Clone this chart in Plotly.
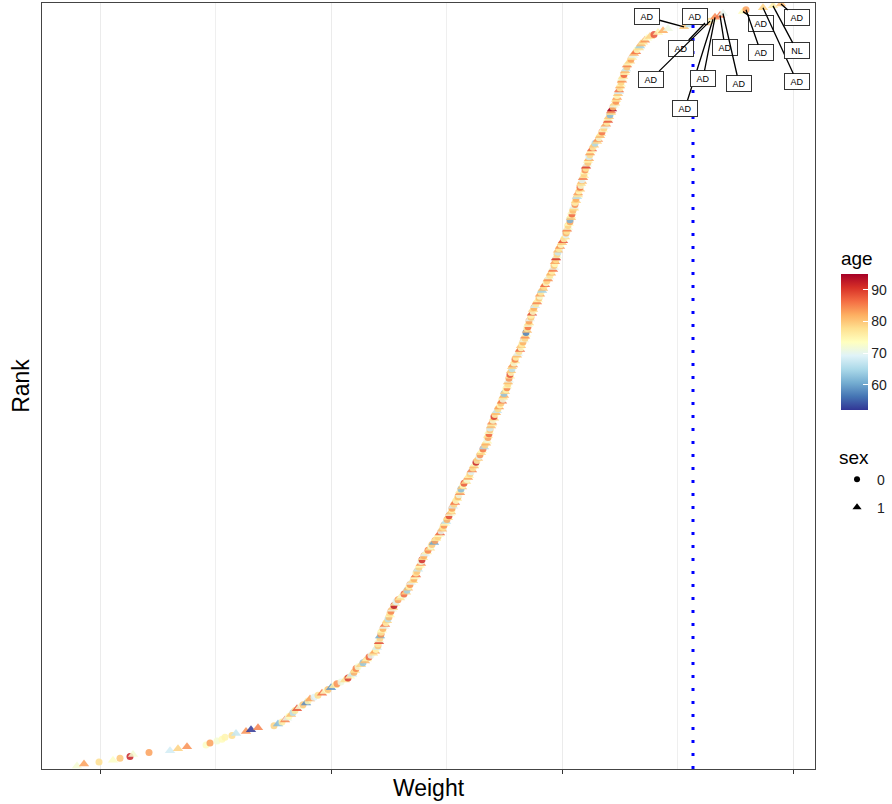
import plotly.graph_objects as go

# ---------------- data ----------------
weight = [
    -0.23, -0.16, -0.01, 0.13, 0.20, 0.30, 0.33, 0.49, 0.70, 0.78,
    0.87, 1.06, 1.10, 1.17, 1.22, 1.25, 1.32, 1.36, 1.46, 1.51,
    1.58, 1.74, 1.78, 1.82, 1.85, 1.87, 1.89, 1.91, 1.93, 1.95,
    1.97, 2.00, 2.03, 2.06, 2.08, 2.10, 2.14, 2.18, 2.22, 2.25,
    2.28, 2.31, 2.34, 2.37, 2.41, 2.45, 2.48, 2.50, 2.52, 2.54,
    2.55, 2.56, 2.58, 2.61, 2.63, 2.65, 2.67, 2.69, 2.71, 2.73,
    2.75, 2.76, 2.77, 2.78, 2.78, 2.79, 2.79, 2.80, 2.80, 2.81,
    2.81, 2.82, 2.83, 2.84, 2.85, 2.86, 2.87, 2.88, 2.89, 2.90,
    2.90, 2.91, 2.92, 2.93, 2.94, 2.95, 2.96, 2.98, 3.00, 3.02,
    3.04, 3.06, 3.07, 3.08, 3.09, 3.10, 3.11, 3.13, 3.14, 3.15,
    3.16, 3.16, 3.17, 3.18, 3.19, 3.20, 3.21, 3.21, 3.22, 3.23,
    3.24, 3.25, 3.27, 3.28, 3.30, 3.31, 3.32, 3.34, 3.35, 3.36,
    3.38, 3.39, 3.40, 3.41, 3.42, 3.43, 3.44, 3.45, 3.46, 3.47,
    3.48, 3.49, 3.50, 3.51, 3.52, 3.52, 3.53, 3.54, 3.55, 3.56,
    3.57, 3.58, 3.59, 3.60, 3.60, 3.61, 3.62, 3.63, 3.64, 3.66,
    3.67, 3.68, 3.69, 3.70, 3.71, 3.72, 3.73, 3.74, 3.75, 3.76,
    3.77, 3.78, 3.79, 3.80, 3.81, 3.82, 3.83, 3.84, 3.85, 3.86,
    3.87, 3.87, 3.88, 3.88, 3.89, 3.89, 3.90, 3.90, 3.91, 3.92,
    3.92, 3.93, 3.94, 3.94, 3.95, 3.96, 3.97, 3.98, 3.99, 4.00,
    4.01, 4.02, 4.03, 4.03, 4.04, 4.04, 4.05, 4.06, 4.07, 4.07,
    4.08, 4.08, 4.09, 4.09, 4.10, 4.10, 4.11, 4.11, 4.12, 4.12,
    4.13, 4.14, 4.15, 4.15, 4.16, 4.17, 4.18, 4.19, 4.20, 4.21,
    4.21, 4.22, 4.23, 4.24, 4.25, 4.25, 4.26, 4.26, 4.27, 4.27,
    4.28, 4.28, 4.29, 4.29, 4.30, 4.31, 4.31, 4.32, 4.33, 4.33,
    4.34, 4.35, 4.36, 4.37, 4.38, 4.39, 4.40, 4.40, 4.41, 4.42,
    4.43, 4.44, 4.45, 4.46, 4.47, 4.48, 4.49, 4.50, 4.51, 4.52,
    4.53, 4.54, 4.54, 4.55, 4.55, 4.56, 4.56, 4.57, 4.57, 4.58,
    4.58, 4.59, 4.60, 4.61, 4.62, 4.63, 4.64, 4.65, 4.66, 4.66,
    4.67, 4.67, 4.68, 4.68, 4.69, 4.70, 4.70, 4.71, 4.71, 4.72,
    4.72, 4.73, 4.74, 4.74, 4.75, 4.75, 4.76, 4.76, 4.77, 4.78,
    4.78, 4.79, 4.80, 4.80, 4.81, 4.81, 4.82, 4.82, 4.83, 4.84,
    4.84, 4.85, 4.85, 4.86, 4.86, 4.87, 4.88, 4.88, 4.89, 4.89,
    4.90, 4.90, 4.91, 4.92, 4.93, 4.94, 4.95, 4.97, 4.98, 4.99,
    5.00, 5.01, 5.02, 5.03, 5.04, 5.05, 5.06, 5.07, 5.08, 5.08,
    5.09, 5.10, 5.11, 5.11, 5.12, 5.13, 5.14, 5.15, 5.16, 5.16,
    5.17, 5.17, 5.18, 5.19, 5.19, 5.20, 5.20, 5.21, 5.21, 5.22,
    5.22, 5.23, 5.24, 5.25, 5.25, 5.26, 5.27, 5.27, 5.28, 5.30,
    5.31, 5.32, 5.33, 5.34, 5.36, 5.37, 5.39, 5.40, 5.41, 5.43,
    5.45, 5.47, 5.50, 5.54, 5.58, 5.63, 5.68, 5.84, 5.90, 6.05,
    6.10, 6.13, 6.15, 6.20, 6.23, 6.43, 6.46, 6.63, 6.73, 6.81,
]

age = [
    72, 83, 78, 73, 80, 92, 72, 83, 68, 79,
    84, 73, 83, 72, 74, 75, 78, 67, 84, 52,
    85, 79, 62, 76, 85, 70, 74, 81, 66, 77,
    88, 72, 80, 58, 75, 83, 69, 78, 86, 73,
    80, 59, 76, 84, 71, 78, 90, 74, 67, 82,
    77, 85, 72, 79, 63, 81, 75, 87, 70, 78,
    83, 74, 68, 80, 76, 89, 72, 79, 61, 84,
    77, 73, 82, 70, 86, 75, 79, 66, 81, 74,
    78, 85, 71, 80, 93, 76, 69, 83, 77, 72,
    87, 79, 64, 81, 75, 84, 70, 78, 82, 73,
    86, 76, 80, 67, 79, 74, 84, 71, 91, 77,
    82, 69, 75, 85, 78, 72, 80, 60, 83, 76,
    79, 73, 87, 70, 81, 77, 84, 74, 66, 82,
    78, 89, 72, 80, 75, 83, 68, 79, 86, 73,
    77, 81, 71, 84, 76, 62, 80, 74, 88, 78,
    72, 83, 75, 79, 69, 85, 77, 81, 73, 92,
    76, 80, 70, 84, 78, 74, 86, 65, 79, 82,
    75, 71, 83, 77, 87, 73, 80, 68, 81, 76,
    84, 72, 79, 90, 75, 81, 67, 78, 83, 74,
    80, 86, 71, 77, 82, 63, 79, 75, 85, 73,
    78, 81, 70, 84, 76, 88, 74, 80, 66, 79,
    83, 72, 77, 85, 75, 81, 69, 78, 87, 73,
    80, 76, 82, 71, 79, 84, 74, 57, 81, 77,
    86, 72, 78, 83, 70, 80, 75, 89, 73, 79,
    82, 68, 77, 85, 74, 80, 72, 83, 76, 64,
    81, 78, 87, 73, 79, 84, 71, 77, 82, 75,
    86, 70, 80, 74, 83, 78, 91, 72, 79, 67,
    81, 76, 84, 73, 80, 88, 75, 78, 69, 82,
    77, 85, 72, 79, 74, 83, 61, 80, 76, 87,
    73, 81, 78, 70, 84, 75, 79, 82, 66, 77,
    83, 74, 80, 86, 72, 78, 81, 69, 85, 76,
    79, 73, 84, 77, 90, 71, 80, 75, 82, 68,
    78, 83, 74, 87, 76, 80, 65, 79, 84, 72,
    81, 77, 86, 73, 79, 70, 83, 76, 88, 74,
    80, 62, 78, 85, 95, 81, 71, 79, 84, 77,
    83, 73, 80, 68, 86, 76, 82, 74, 79, 84,
    72, 78, 87, 75, 81, 67, 80, 85, 73, 79,
    83, 76, 70, 82, 86, 74, 78, 64, 81, 77,
    84, 73, 79, 88, 75, 82, 71, 80, 66, 84,
    78, 72, 85, 86, 70, 74, 83, 79, 76, 81,
]

sex = [
    1, 1, 0, 1, 0, 0, 1, 0, 1, 1,
    1, 0, 0, 0, 0, 0, 0, 1, 1, 1,
    1, 0, 1, 0, 1, 1, 0, 1, 0, 0,
    1, 1, 0, 1, 0, 1, 0, 0, 1, 1,
    0, 1, 1, 0, 0, 1, 0, 1, 1, 0,
    1, 0, 0, 1, 0, 1, 1, 0, 0, 1,
    1, 0, 1, 0, 0, 1, 1, 0, 1, 0,
    0, 1, 0, 1, 1, 0, 1, 0, 0, 1,
    0, 0, 1, 1, 0, 1, 0, 0, 1, 1,
    0, 1, 0, 1, 0, 0, 1, 1, 0, 1,
    1, 0, 0, 1, 0, 1, 1, 0, 0, 1,
    0, 1, 1, 0, 1, 0, 0, 1, 0, 1,
    0, 1, 1, 0, 1, 0, 0, 1, 1, 0,
    1, 0, 1, 1, 0, 0, 1, 0, 1, 0,
    1, 0, 0, 1, 1, 0, 1, 0, 0, 1,
    0, 1, 1, 0, 0, 1, 0, 1, 1, 0,
    0, 1, 0, 0, 1, 1, 0, 1, 0, 1,
    1, 0, 0, 1, 0, 1, 0, 0, 1, 1,
    1, 0, 1, 0, 0, 1, 1, 0, 1, 0,
    0, 1, 0, 1, 1, 0, 1, 0, 0, 1,
    0, 1, 1, 0, 1, 0, 0, 1, 0, 1,
    1, 0, 1, 0, 0, 1, 1, 0, 1, 0,
    1, 0, 0, 1, 0, 1, 1, 0, 1, 0,
    0, 1, 1, 0, 1, 0, 0, 1, 0, 1,
    0, 1, 0, 1, 1, 0, 0, 1, 0, 1,
    1, 0, 1, 0, 0, 1, 1, 0, 1, 0,
    1, 1, 0, 0, 1, 0, 1, 1, 0, 0,
    1, 0, 1, 0, 1, 1, 0, 1, 0, 0,
    0, 1, 1, 0, 1, 0, 0, 1, 1, 0,
    1, 0, 1, 1, 0, 0, 1, 0, 1, 1,
    1, 0, 1, 0, 0, 1, 1, 0, 1, 1,
    0, 1, 0, 0, 1, 1, 0, 1, 1, 0,
    0, 1, 1, 1, 0, 1, 0, 1, 1, 0,
    1, 1, 0, 1, 0, 1, 1, 0, 1, 1,
    1, 0, 1, 1, 1, 0, 1, 1, 0, 1,
    1, 0, 1, 1, 1, 0, 1, 1, 0, 1,
    1, 1, 0, 1, 1, 1, 0, 1, 1, 1,
    0, 1, 1, 1, 1, 0, 1, 1, 1, 1,
    1, 1, 1, 0, 1, 1, 1, 1, 1, 1,
    0, 1, 1, 1, 1, 1, 0, 1, 1, 1,
]

# diagnosis labels of the 13 highest-ranked subjects
top_labels = ["AD", "AD", "AD", "AD", "AD", "AD", "AD", "AD", "AD", "AD", "AD", "NL", "AD"]
threshold = 5.93
age_ticks = [60, 70, 80, 90]
sex_levels = ["0", "1"]

# ---------------- derived ----------------
N = min(len(weight), len(age), len(sex))
order = sorted(range(N), key=lambda i: weight[i])
w_sorted = [weight[i] for i in order]
a_sorted = [age[i] for i in order]
s_sorted = [sex[i] for i in order]
rank = list(range(1, N + 1))

FONT = "Liberation Sans, Arial, Helvetica, sans-serif"
symbols = ["circle" if s == 0 else "triangle-up" for s in s_sorted]
sizes = [7 if s == 0 else 9 for s in s_sorted]

fig = go.Figure()
fig.add_trace(go.Scatter(
    x=w_sorted, y=rank, mode="markers", showlegend=False, hoverinfo="skip",
    marker=dict(
        color=a_sorted, colorscale="RdYlBu_r", cmin=min(a_sorted), cmax=max(a_sorted),
        symbol=symbols, size=sizes, opacity=0.85, line=dict(width=0),
        colorbar=dict(
            title=dict(text="age", side="top", font=dict(size=19, color="#000", family=FONT)),
            x=1.0336, xanchor="left", xpad=0,
            y=0.4687, yanchor="bottom", ypad=0,
            len=162, lenmode="pixels", thickness=27, thicknessmode="pixels",
            outlinewidth=0, tickvals=age_ticks, ticks="inside", ticklen=5,
            tickcolor="white", tickwidth=1,
            tickfont=dict(size=14, color="#222", family=FONT),
        ),
    ),
))

for lev, sym, sz in zip(sex_levels, ["circle", "triangle-up"], [6, 8]):
    fig.add_trace(go.Scatter(
        x=[None], y=[None], mode="markers", name=lev, legendgroup=lev,
        marker=dict(color="black", symbol=sym, size=sz),
    ))

# label annotations (ggrepel-like boxes)
offsets_ax = [-37, 5, -24, -59, -28, -12, 5, 16, 18, 15, 34, 24, 16]
offsets_ay = [-10, -8, 25, 58, 89, 61, 32, 70, 12, 43, 74, 45, 14]
annotations = []
n_lab = len(top_labels)
for k in range(n_lab):
    idx = N - n_lab + k
    annotations.append(dict(
        x=w_sorted[idx], y=rank[idx], xref="x", yref="y", text=top_labels[k],
        showarrow=True, arrowhead=0, arrowwidth=1.3, arrowcolor="black", standoff=0,
        ax=offsets_ax[k], ay=offsets_ay[k],
        font=dict(size=9, color="#000", family=FONT),
        bgcolor="white", bordercolor="#333", borderwidth=1, borderpad=2,
        width=20, height=11,
    ))

fig.add_shape(type="line", x0=threshold, x1=threshold, xref="x", yref="paper", y0=0, y1=1,
              line=dict(color="blue", width=3, dash="3px,10px"), layer="above")

fig.update_layout(
    width=892, height=804,
    margin=dict(l=42, r=77, t=3, b=35, autoexpand=False),
    paper_bgcolor="white", plot_bgcolor="white",
    font=dict(family=FONT, color="#000"),
    annotations=annotations,
    legend=dict(
        title=dict(text="sex", font=dict(size=19, color="#000", family=FONT)),
        font=dict(size=14, color="#222", family=FONT),
        x=1.0285, xanchor="left", y=0.431, yanchor="top",
        tracegroupgap=7, itemwidth=30, bgcolor="rgba(0,0,0,0)",
    ),
    xaxis=dict(
        range=[-0.58, 7.15], tick0=0, dtick=2.31, showticklabels=False,
        ticks="outside", ticklen=4, tickcolor="#333", tickwidth=1,
        showgrid=True, gridcolor="#EBEBEB", gridwidth=1,
        minor=dict(tick0=0, dtick=1.155, showgrid=True, gridcolor="#EFEFEF", gridwidth=0.7),
        showline=True, mirror=True, linecolor="#444", linewidth=1, zeroline=False,
        title=dict(text="Weight", font=dict(size=23, color="#000", family=FONT), standoff=6),
    ),
    yaxis=dict(
        range=[-0.6, 400.5], showticklabels=False, ticks="", showgrid=False,
        showline=True, mirror=True, linecolor="#444", linewidth=1, zeroline=False,
        title=dict(text="Rank", font=dict(size=23, color="#000", family=FONT), standoff=4),
    ),
)

fig.write_html("out.html")
